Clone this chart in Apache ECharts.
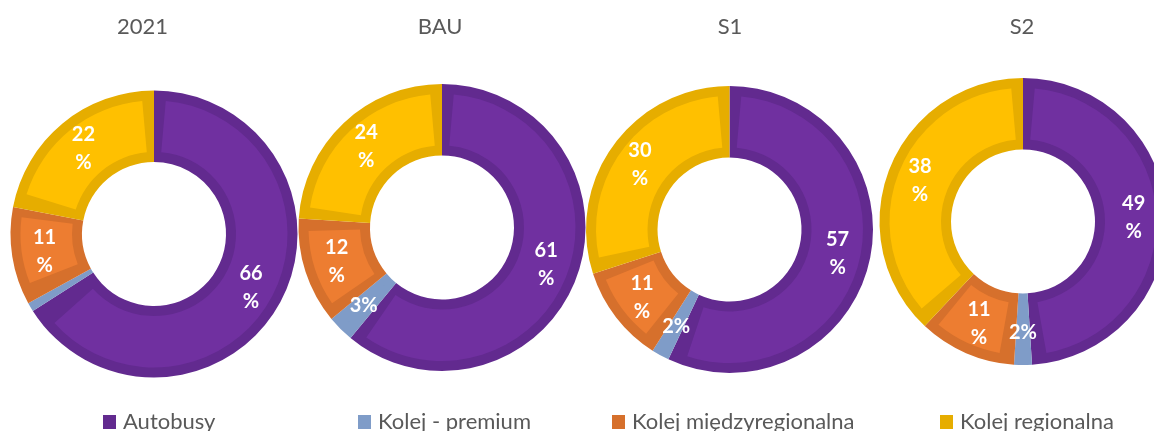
<!DOCTYPE html>
<html>
<head>
<meta charset="utf-8">
<script src="https://cdn.jsdelivr.net/npm/echarts@6/dist/echarts.min.js"></script>
<style>
  html, body { margin: 0; padding: 0; background: #fff; }
  #chart { width: 1154px; height: 431px; }
</style>
</head>
<body>
<div id="chart"></div>
<script>
// Modal split of passenger transport by scenario (percent)
const scenarios = ['2021', 'BAU', 'S1', 'S2'];
const categories = ['Autobusy', 'Kolej - premium', 'Kolej międzyregionalna', 'Kolej regionalna'];
const shares2021 = [66, 1, 11, 22];
const sharesBAU  = [61, 3, 12, 24];
const sharesS1   = [57, 2, 11, 30];
const sharesS2   = [49, 2, 11, 38];
const sharesByScenario = [shares2021, sharesBAU, sharesS1, sharesS2];

// Styling
const fillColors = ['#7030A0', '#7F9CC8', '#ED7D31', '#FFC000'];
const edgeColors = ['#622A8F', '#7F9CC8', '#D6702C', '#E6AD00'];
const centers = [[154, 234], [442, 227.5], [729.5, 229.5], [1023, 221.5]];
const titlePos = [[142.5, 27], [440, 27], [730, 27], [1022, 27]];
const legendLeft = [103, 358, 612, 940];
const R = 143.5, r = 72, band = 10;
const padDeg = 0.95 * (2 * band / ((r + R) / 2)) * 180 / Math.PI;

const fontFamily = 'Lato, "Open Sans", sans-serif';

const chart = echarts.init(document.getElementById('chart'), null, { renderer: 'canvas' });

const series = [];
sharesByScenario.forEach(function (shares, i) {
  const base = {
    type: 'pie',
    center: centers[i],
    startAngle: 90,
    clockwise: true,
    silent: true,
    animation: false,
    labelLine: { show: false }
  };
  // outer band colour (slice edge)
  series.push(Object.assign({}, base, {
    name: scenarios[i] + '-edge',
    radius: [r, R],
    label: { show: false },
    data: categories.map(function (c, k) {
      return { name: c, value: shares[k], itemStyle: { color: edgeColors[k], borderWidth: 0 } };
    })
  }));
  // inset slice fill
  series.push(Object.assign({}, base, {
    name: scenarios[i] + '-fill',
    radius: [r + band, R - band],
    padAngle: padDeg,
    label: { show: false },
    data: categories.map(function (c, k) {
      return { name: c, value: shares[k], itemStyle: { color: fillColors[k], borderWidth: 0 } };
    })
  }));
  // value labels
  series.push(Object.assign({}, base, {
    name: scenarios[i] + '-label',
    radius: [r, R],
    z: 5,
    itemStyle: { color: 'rgba(0,0,0,0)', borderWidth: 0 },
    label: {
      show: true,
      position: 'inside',
      color: '#ffffff',
      fontFamily: fontFamily,
      fontWeight: 'bold',
      fontSize: 20,
      lineHeight: 28,
      formatter: function (p) {
        return p.value >= 10 ? p.value + '\n%' : p.value + '%';
      }
    },
    data: categories.map(function (c, k) {
      return { name: c, value: shares[k] };
    })
  }));
});

const legends = categories.map(function (c, k) {
  return {
    left: legendLeft[k],
    top: 411,
    padding: 0,
    icon: 'rect',
    itemWidth: 13,
    itemHeight: 14,
    selectedMode: false,
    data: [{ name: c, itemStyle: { color: edgeColors[k] } }],
    textStyle: { color: '#595959', fontSize: 22, fontFamily: fontFamily, padding: [0, 0, 0, 2] }
  };
});

const titles = scenarios.map(function (s, i) {
  return {
    type: 'text',
    x: titlePos[i][0],
    y: titlePos[i][1],
    silent: true,
    style: {
      text: s,
      fill: '#595959',
      font: '22px ' + fontFamily,
      textAlign: 'center',
      textVerticalAlign: 'middle'
    }
  };
});

chart.setOption({
  backgroundColor: '#ffffff',
  animation: false,
  legend: legends,
  graphic: titles,
  series: series
});
</script>
</body>
</html>
